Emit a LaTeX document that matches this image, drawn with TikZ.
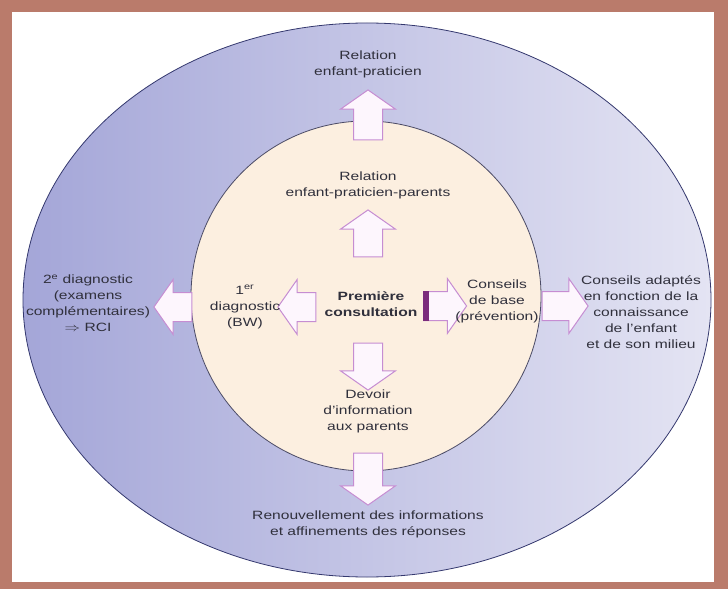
\documentclass[tikz,border=0pt]{standalone}
\usepackage{fontspec}
\setmainfont{Liberation Sans}
\usepackage{tikz}
\usetikzlibrary{shapes.arrows}
\usetikzlibrary{calc}

\definecolor{bordure}{HTML}{BA7B6B}
\definecolor{ovaleG}{HTML}{A4A6D8}
\definecolor{ovaleD}{HTML}{E4E4F3}
\definecolor{ovaleTrait}{HTML}{34386E}
\definecolor{cercleFond}{HTML}{FCEFE0}
\definecolor{cercleTrait}{HTML}{4B4B66}
\definecolor{flecheTrait}{HTML}{C68DD2}
\definecolor{flecheFond}{HTML}{FDF6FD}
\definecolor{onglet}{HTML}{7B2C7C}
\definecolor{texte}{HTML}{30303C}

\tikzset{
  fleche/.style={single arrow, draw=flecheTrait, line width=1bp, fill=flecheFond,
    inner xsep=0pt, inner ysep=14bp, minimum width=54bp, single arrow head extend=13bp,
    single arrow tip angle=110},
  etiquette/.style={align=center, text=texte, font=\fontsize{12bp}{16bp}\selectfont, xscale=1.3}
}

\begin{document}
\begin{tikzpicture}[x=1bp,y=-1bp]

		\useasboundingbox (0,0) rectangle (728,589);
		\fill [bordure] (0,0) rectangle (728,589);
		\fill [white] (12,12) rectangle (714,582);

		\coordinate (O) at (367,300) ;
		\coordinate (I) at (366,296) ;

		\draw [ovaleTrait, line width=0.8bp, left color=ovaleG, right color=ovaleD] (O) ellipse [x radius=344, y radius=277];
		\draw [cercleTrait, line width=0.8bp, fill=cercleFond] (I) circle [radius=175];

		% fleches
		\node [fleche, rotate=90, minimum height=50bp] (hautExt) at (368,120) {};
		\node [fleche, rotate=90, minimum height=47bp] (hautInt) at (368,238.5) {};
		\node [fleche, rotate=-90, minimum height=47bp] (basInt) at (368,361.5) {};
		\node [fleche, rotate=-90, minimum height=52bp] (basExt) at (368,474) {};
		\node [fleche, rotate=180, minimum height=38bp] (gaucheExt) at (178,307) {};
		\node [fleche, rotate=180, minimum height=38bp] (gaucheInt) at (302,307) {};
		\node [fleche, minimum height=43bp] (droiteInt) at (440,306) {};
		\node [fleche, minimum height=46bp] (droiteExt) at (560,306) {};

		\fill [onglet] (droiteInt.before tail) rectangle ($(droiteInt.after tail)+(6,0)$);

		% textes
		\node [etiquette] (relExt) at (368,64.5) {Relation\\enfant-praticien};
		\node [etiquette] (relInt) at (368,185) {Relation\\enfant-praticien-parents};
		\node [etiquette, font=\fontsize{12bp}{16bp}\selectfont\bfseries] (premiere) at (371,304) {Première\\consultation};
		\node [etiquette] (diag1) at (245,307) {1\textsuperscript{er}\\diagnostic\\(BW)};
		\node [etiquette] (diag2) at (88,303) {2\textsuperscript{e} diagnostic\\(examens\\complémentaires)\\$\Rightarrow$ RCI};
		\node [etiquette] (conseils) at (497,301) {Conseils\\de base\\(prévention)};
		\node [etiquette] (adaptes) at (641,312) {Conseils adaptés\\en fonction de la\\connaissance\\de l'enfant\\et de son milieu};
		\node [etiquette] (devoir) at (368,411) {Devoir\\d'information\\aux parents};
		\node [etiquette] (renouv) at (368,524) {Renouvellement des informations\\et affinements des réponses};

\end{tikzpicture}
\end{document}
